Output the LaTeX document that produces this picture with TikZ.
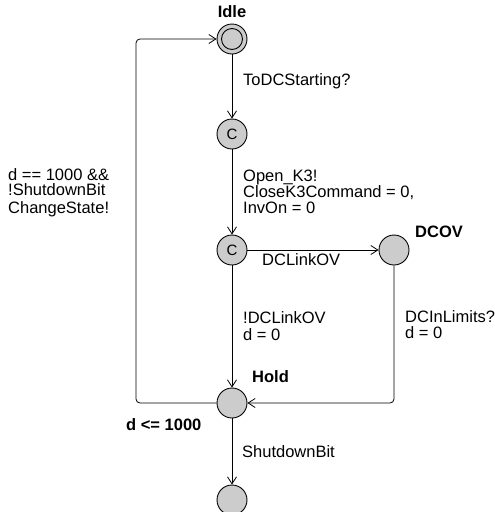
\documentclass[tikz,border=0pt]{standalone}
\usepackage{fontspec}
\setmainfont{Liberation Sans}
\usetikzlibrary{arrows.meta}
\begin{document}
\begin{tikzpicture}[x=1pt,y=-1pt,
  loc/.style={circle,draw=black,fill=black!20,line width=0.9pt,minimum size=30pt,inner sep=0pt,font=\fontsize{15}{15}\selectfont},
  lbl/.style={anchor=base west,inner sep=0pt,font=\fontsize{16.5}{16}\selectfont},
  nm/.style={anchor=base west,inner sep=0pt,font=\fontsize{16.5}{16.5}\selectfont\bfseries},
  edge/.style={draw=black,line width=0.8pt,-{Straight Barb[length=7pt,width=9pt]},rounded corners=4pt}]
\useasboundingbox (0,0) rectangle (495,512);
\node[loc] (idle) at (232,39) {};
\node[circle,draw=black,line width=0.9pt,minimum size=21pt,inner sep=0pt] (idlein) at (232,39) {};
\node[loc] (c1) at (232,134) {C};
\node[loc] (c2) at (232,250) {C};
\node[loc] (dcov) at (394,250) {};
\node[loc] (hold) at (232,403) {};
\node[loc] (fin) at (232,500) {};
\node[nm,anchor=base] (nidle) at (232,17) {Idle};
\node[nm] (ndcov) at (415,237) {DCOV};
\node[nm] (nhold) at (252,382) {Hold};
\node[nm] (inv) at (126,430) {d <= 1000};
\coordinate (tl) at (136,39);
\coordinate (bl) at (136,403);
\coordinate (br) at (394,403);
\draw[edge] (idle) -- (c1);
\draw[edge] (c1) -- (c2);
\draw[edge] (c2) -- (dcov);
\draw[edge] (c2) -- (hold);
\draw[edge] (dcov) -- (br) -- (hold);
\draw[edge] (hold) -- (bl) -- (tl) -- (idle);
\draw[edge] (hold) -- (fin);
\node[lbl] (l1) at (243,85) {ToDCStarting?};
\node[lbl] (l2) at (243,181) {\vtop{\hbox{Open\_K3!}\hbox{CloseK3Command = 0,}\hbox{InvOn = 0}}};
\node[lbl] (l3) at (262,265) {DCLinkOV};
\node[lbl,font=\fontsize{16.5}{17}\selectfont] (l4) at (243,323) {\vtop{\hbox{!DCLinkOV}\hbox{d = 0}}};
\node[lbl] (l5) at (405,322) {\vtop{\hbox{DCInLimits?}\hbox{d = 0}}};
\node[lbl,font=\fontsize{16.5}{15}\selectfont] (l6) at (8,180) {\vtop{\hbox{d == 1000 \&\&}\hbox{!ShutdownBit}}};
\node[lbl] (l7) at (8,213) {ChangeState!};
\node[lbl] (l8) at (242,457) {ShutdownBit};
\end{tikzpicture}
\end{document}
